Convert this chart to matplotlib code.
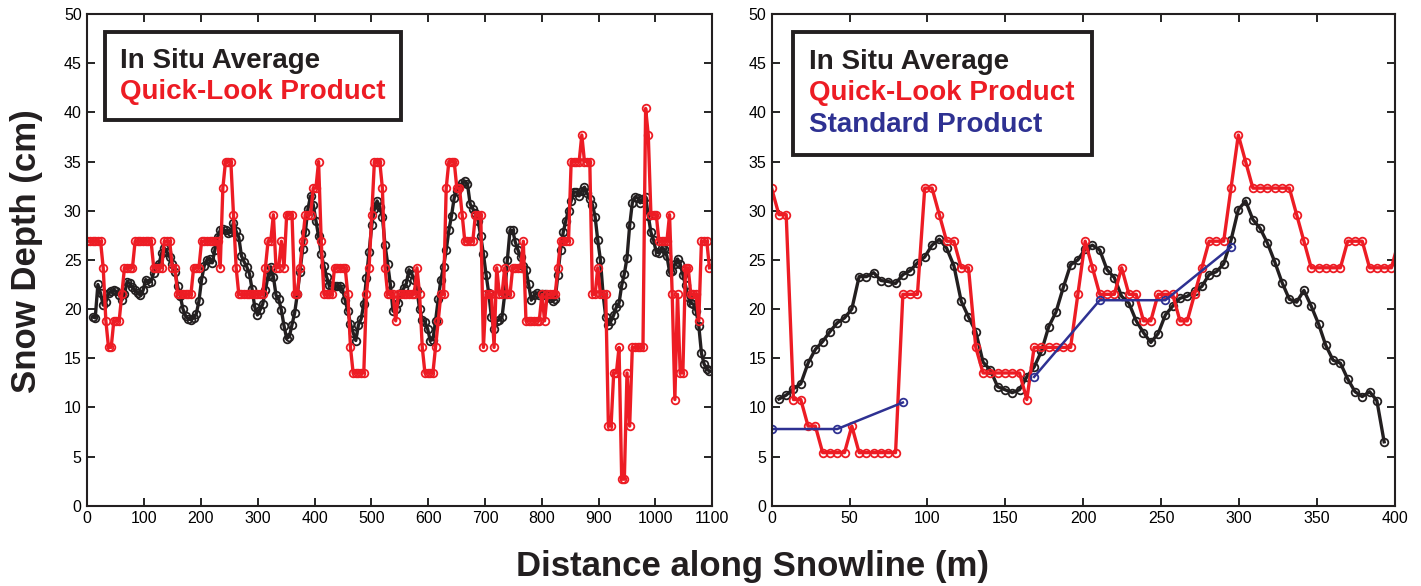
import numpy as np
import matplotlib
matplotlib.use("Agg")
import matplotlib.pyplot as plt
from matplotlib.lines import Line2D

plt.rcParams["font.family"] = ["Liberation Sans", "DejaVu Sans"]

# sample spacing along the snowline (m)
STEP = 4.68

# ---- transect A (0-1100 m) ----
insitu_a = [
    np.nan, np.nan, 19.2, 19.1, 22.5, 21.6, 20.4, 20.7, 21.6, 21.8,
    21.9, 21.8, 21.4, 20.9, 21.5, 22.8, 22.6, 22.2, 21.9, 21.6,
    21.4, 21.9, 23.0, 22.7, 22.8, 23.7, 24.3, 24.6, 25.7, 26.2,
    25.8, 25.3, 24.6, 23.8, 22.3, 21.3, 20.0, 19.3, 19.0, 18.9,
    19.1, 19.5, 20.8, 23.0, 24.4, 25.0, 25.1, 24.7, 26.0, 27.3,
    28.0, 28.1, 28.0, 27.7, 27.8, 28.8, 27.9, 27.3, 25.4, 24.8,
    24.3, 23.6, 22.0, 20.2, 19.4, 19.9, 20.5, 21.9, 23.4, 24.3,
    23.3, 21.4, 21.0, 19.9, 18.3, 17.0, 17.2, 18.4, 19.6, 21.5,
    23.8, 26.1, 27.8, 30.2, 31.5, 30.6, 29.0, 27.4, 25.6, 24.4,
    23.3, 22.4, 22.3, 22.3, 22.3, 22.3, 22.0, 20.9, 19.8, 18.5,
    17.6, 16.8, 18.4, 19.0, 20.5, 23.2, 25.8, 28.5, 30.2, 31.0,
    30.4, 29.4, 26.5, 24.6, 22.5, 19.8, 20.0, 20.6, 21.6, 22.1,
    22.6, 24.0, 23.6, 23.0, 21.9, 20.0, 18.9, 18.7, 18.0, 16.8,
    16.9, 18.8, 21.0, 23.0, 24.3, 26.0, 28.0, 29.5, 31.3, 32.0,
    32.4, 32.8, 33.0, 32.7, 30.7, 30.2, 29.8, 29.0, 27.4, 25.6,
    23.5, 21.6, 19.2, 18.0, 18.8, 18.9, 19.2, 21.5, 25.0, 28.0,
    28.0, 26.8, 26.0, 25.3, 24.4, 24.0, 22.5, 20.9, 21.4, 21.6,
    21.4, 21.5, 21.5, 21.3, 21.1, 20.8, 21.0, 23.5, 26.0, 27.8,
    29.0, 30.0, 31.0, 31.9, 31.9, 31.5, 32.0, 32.4, 31.8, 31.2,
    30.6, 29.4, 27.0, 25.0, 21.5, 19.2, 18.4, 18.8, 19.4, 20.2,
    20.6, 22.4, 23.6, 25.2, 28.5, 30.8, 31.4, 31.3, 30.8, 31.2,
    31.4, 29.5, 27.8, 27.0, 25.8, 25.7, 26.2, 26.1, 25.4, 23.8,
    23.9, 24.6, 25.1, 24.6, 23.5, 22.4, 21.2, 20.6, 20.5, 19.8,
    18.3, 15.5, 14.4, 13.9, 13.7,
]
quicklook_a = [
    26.9, 26.9, 26.9, 26.9, 26.9, 26.9, 24.2, 18.8, 16.1, 16.1,
    18.8, 18.8, 18.8, 21.5, 24.2, 24.2, 24.2, 24.2, 26.9, 26.9,
    26.9, 26.9, 26.9, 26.9, 26.9, 24.2, 24.2, 24.2, 24.2, 26.9,
    26.9, 26.9, 24.2, 24.2, 21.5, 21.5, 21.5, 21.5, 21.5, 21.5,
    24.2, 24.2, 24.2, 26.9, 26.9, 26.9, 26.9, 26.9, 26.9, 26.9,
    24.2, 32.3, 35.0, 35.0, 35.0, 29.6, 24.2, 21.5, 21.5, 21.5,
    21.5, 21.5, 21.5, 21.5, 21.5, 21.5, 21.5, 24.2, 26.9, 26.9,
    29.6, 24.2, 24.2, 26.9, 24.2, 29.6, 29.6, 29.6, 21.5, 21.5,
    24.2, 26.9, 29.6, 29.6, 29.6, 32.3, 32.3, 35.0, 26.9, 21.5,
    21.5, 21.5, 21.5, 24.2, 24.2, 24.2, 24.2, 24.2, 21.5, 16.1,
    13.5, 13.5, 13.5, 13.5, 13.5, 21.5, 24.2, 29.6, 35.0, 35.0,
    35.0, 32.3, 24.2, 21.5, 21.5, 21.5, 18.8, 21.5, 21.5, 21.5,
    21.5, 21.5, 21.5, 21.5, 24.2, 21.5, 16.1, 13.5, 13.5, 13.5,
    13.5, 16.1, 18.8, 21.5, 21.5, 32.3, 35.0, 35.0, 35.0, 32.3,
    32.3, 29.6, 26.9, 26.9, 26.9, 26.9, 29.6, 29.6, 29.6, 16.1,
    21.5, 21.5, 21.5, 16.1, 24.2, 21.5, 21.5, 24.2, 21.5, 21.5,
    24.2, 24.2, 24.2, 24.2, 26.9, 18.8, 18.8, 18.8, 18.8, 18.8,
    18.8, 21.5, 18.8, 21.5, 21.5, 21.5, 21.5, 24.2, 26.9, 26.9,
    26.9, 26.9, 35.0, 35.0, 35.0, 35.0, 37.7, 35.0, 35.0, 35.0,
    21.5, 21.5, 24.2, 21.5, 21.5, 21.5, 8.1, 8.1, 13.5, 13.5,
    16.1, 2.7, 2.7, 13.5, 8.1, 16.1, 16.1, 16.1, 16.1, 16.1,
    40.4, 37.7, 29.6, 29.6, 29.6, 26.9, 26.9, 26.9, 26.9, 29.6,
    21.5, 10.8, 21.5, 13.5, 13.5, 24.2, 24.2, 21.5, 21.5, 21.5,
    18.8, 26.9, 26.9, 26.9, 24.2,
]

# ---- transect B (0-400 m) ----
insitu_b = [
    np.nan, 10.85, 11.25, 11.9, 12.4, 14.5, 15.9, 16.7, 17.7, 18.6,
    19.1, 20.0, 23.3, 23.3, 23.7, 22.9, 22.8, 22.6, 23.5, 23.9,
    24.7, 25.3, 26.5, 27.1, 26.2, 24.4, 20.8, 19.2, 17.7, 14.6,
    13.8, 12.1, 11.8, 11.5, 11.8, 13.1, 14.1, 15.7, 18.2, 19.7,
    22.2, 24.5, 25.0, 26.1, 26.5, 26.0, 24.0, 23.2, 21.3, 20.6,
    18.8, 17.6, 16.6, 17.5, 19.4, 20.3, 21.1, 21.3, 21.8, 22.3,
    23.5, 23.8, 24.6, 27.0, 30.1, 31.0, 29.1, 28.2, 26.7, 24.8,
    22.7, 21.0, 20.7, 21.9, 20.3, 18.5, 16.3, 14.8, 14.5, 12.9,
    11.6, 11.1, 11.6, 10.7, 6.5,
]
quicklook_b = [
    32.3, 29.6, 29.6, 10.8, 10.8, 8.1, 8.1, 5.4, 5.4, 5.4,
    5.4, 8.1, 5.4, 5.4, 5.4, 5.4, 5.4, 5.4, 21.5, 21.5,
    21.5, 32.3, 32.3, 29.6, 26.9, 26.9, 24.2, 24.2, 16.1, 13.5,
    13.5, 13.5, 13.5, 13.5, 13.5, 10.8, 16.1, 16.1, 16.1, 16.1,
    16.1, 16.1, 21.5, 26.9, 24.2, 21.5, 21.5, 21.5, 24.2, 21.5,
    21.5, 18.8, 18.8, 21.5, 21.5, 21.5, 18.8, 18.8, 21.5, 24.2,
    26.9, 26.9, 26.9, 32.3, 37.7, 35.0, 32.3, 32.3, 32.3, 32.3,
    32.3, 32.3, 29.6, 26.9, 24.2, 24.2, 24.2, 24.2, 24.2, 26.9,
    26.9, 26.9, 24.2, 24.2, 24.2, 24.2, 26.9,
]
# standard product: every 9th sample, one missing retrieval
standard_idx = [0, 9, 18, 27, 36, 45, 54, 63]
standard_b = [7.8, 7.8, 10.5, np.nan, 13.1, 20.9, 20.9, 26.3]

BLACK = "#231f20"
RED = "#ed1c24"
BLUE = "#2e3192"


def style_axes(ax, xmax, xstep):
    ax.set_xlim(0, xmax)
    ax.set_ylim(0, 50)
    ax.set_xticks(np.arange(0, xmax + 1, xstep))
    ax.set_yticks(np.arange(0, 51, 5))
    ax.tick_params(direction="in", length=6, width=1.2, top=True, right=True,
                   labelsize=11.5, pad=4)
    for s in ax.spines.values():
        s.set_linewidth(1.5)
        s.set_color(BLACK)


def add_key(ax, labels, colors, anchor_x, pad):
    handles = [Line2D([], [], linestyle="none", marker=None) for _ in labels]
    leg = ax.legend(handles, labels, loc="upper left", bbox_to_anchor=(anchor_x, 0.963),
                    handlelength=0, handletextpad=0, labelcolor=colors,
                    prop={"size": 20, "weight": "bold"}, frameon=True,
                    fancybox=False, borderpad=pad, labelspacing=0.2,
                    borderaxespad=0)
    frame = leg.get_frame()
    frame.set_edgecolor(BLACK)
    frame.set_linewidth(2.8)
    frame.set_alpha(1)


fig = plt.figure(figsize=(14.21, 5.86), dpi=100)
ax1 = fig.add_axes([0.0614, 0.137, 0.4398, 0.839])
ax2 = fig.add_axes([0.543, 0.137, 0.4386, 0.839])

mk = dict(marker="o", markersize=5.5, markerfacecolor="none", markeredgewidth=1.3)

x_a = np.arange(len(quicklook_a)) * STEP
ax1.plot(x_a, insitu_a, color=BLACK, lw=2.4, markeredgecolor=BLACK, **mk)
ax1.plot(x_a, quicklook_a, color=RED, lw=2.4, markeredgecolor=RED, **mk)
style_axes(ax1, 1100, 100)
add_key(ax1, ["In Situ Average", "Quick-Look Product"], [BLACK, RED], 0.028, 0.55)

x_b_red = np.arange(len(quicklook_b)) * STEP
x_b_blk = np.arange(len(insitu_b)) * STEP
x_b_std = np.array(standard_idx) * STEP
ax2.plot(x_b_blk, insitu_b, color=BLACK, lw=2.4, markeredgecolor=BLACK, **mk)
ax2.plot(x_b_red, quicklook_b, color=RED, lw=2.4, markeredgecolor=RED, **mk)
ax2.plot(x_b_std, standard_b, color=BLUE, lw=1.8, markeredgecolor=BLUE, **mk)
style_axes(ax2, 400, 50)
add_key(ax2, ["In Situ Average", "Quick-Look Product", "Standard Product"],
        [BLACK, RED, BLUE], 0.034, 0.6)

# shared axis titles
fig.text(0.019, 0.571, "Snow Depth (cm)", rotation=90, ha="center", va="center",
         fontsize=25, fontweight="bold", color=BLACK)
fig.text(0.5296, 0.034, "Distance along Snowline (m)", ha="center", va="center",
         fontsize=25, fontweight="bold", color=BLACK)

fig.savefig("out.png", dpi=100)
